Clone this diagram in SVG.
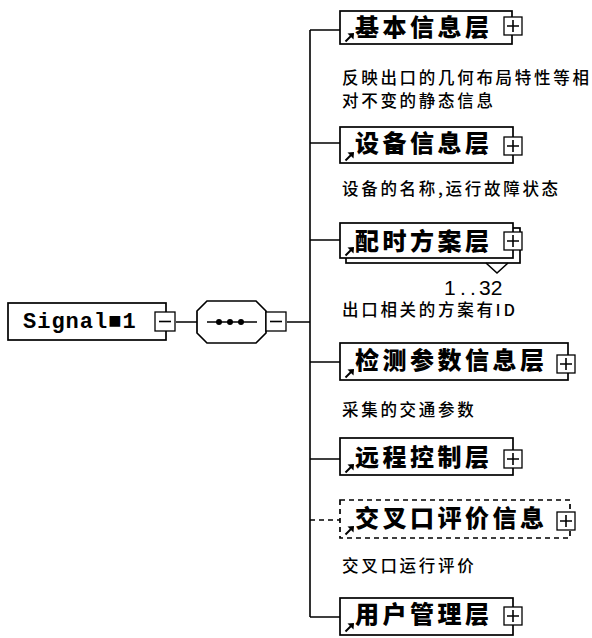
<svg xmlns="http://www.w3.org/2000/svg" width="592" height="638" viewBox="0 0 592 638">
<defs>
<style>
.box{fill:#fff;stroke:#000;stroke-width:1.7}
.pb{fill:#fff;stroke:#000;stroke-width:1.3}
.ln{fill:none;stroke:#000;stroke-width:1.6}
.title{font-family:"Noto Sans CJK SC","Noto Sans",sans-serif;font-weight:900;font-size:24px;letter-spacing:3.5px;fill:#000}
.desc{font-family:"Noto Sans CJK SC","Noto Sans",sans-serif;font-weight:500;font-size:16.5px;letter-spacing:2.7px;fill:#000}
.num{font-family:"Liberation Sans",Arial,sans-serif;font-size:21px;fill:#000}
.root{font-family:"Liberation Mono","Courier New",monospace;font-weight:700;font-size:22px;letter-spacing:1px;fill:#000}
</style>
<g id="plus"><rect class="pb" x="0" y="0" width="18" height="18"/><path class="ln" d="M3 9H15M9 3V15" stroke-width="1.4"/></g>
<g id="minus"><rect class="pb" x="0" y="0" width="20" height="19"/><path class="ln" d="M4 9.5H16" stroke-width="1.4"/></g>
<g id="arr"><path d="M0.5 8.5L6.5 2.5" stroke="#000" stroke-width="2"/><path d="M2.5 0.5L9 0L8.5 6.5Z" fill="#000"/></g>
</defs>
<rect width="592" height="638" fill="#fff"/>

<g id="connectors">
<path class="ln" d="M176 322H197M287 322H310M310 30V617"/>
<path class="ln" d="M310 30H340M310 143H340M310 240H340M310 362H340M310 459H340M310 617H340"/>
<path class="ln" d="M310 520H340" stroke-dasharray="5 4"/>
</g>

<g id="root">
<rect class="box" x="8" y="303" width="158" height="37"/>
<text class="root" x="23" y="328">Signal■1</text>
<use href="#minus" x="155" y="312"/>
</g>

<g id="sequence">
<polygon class="box" points="207,301 256,301 266,311 266,333 256,343 207,343 197,333 197,311"/>
<path class="ln" d="M207 322H257"/>
<circle cx="219" cy="322" r="3"/><circle cx="230" cy="322" r="3"/><circle cx="241" cy="322" r="3"/>
<use href="#minus" x="266" y="312"/>
</g>

<g id="n1">
<rect class="box" x="340" y="11" width="172" height="33"/>
<text class="title" x="355" y="36">基本信息层</text>
<use href="#plus" x="504" y="17"/>
<use href="#arr" x="345" y="33"/>
<text class="desc" x="342" y="84">反映出口的几何布局特性等相</text>
<text class="desc" x="342" y="107">对不变的静态信息</text>
</g>

<g id="n2">
<rect class="box" x="340" y="127" width="173" height="36"/>
<text class="title" x="355" y="152">设备信息层</text>
<use href="#plus" x="504" y="137"/>
<use href="#arr" x="345" y="152"/>
<text class="desc" x="342" y="195">设备的名称,运行故障状态</text>
</g>

<g id="n3">
<rect class="box" x="346" y="228" width="174" height="35"/>
<rect class="box" x="340" y="223" width="173" height="35"/>
<text class="title" x="355" y="250">配时方案层</text>
<use href="#plus" x="504" y="232"/>
<use href="#arr" x="345" y="247"/>
<polyline class="ln" points="486,263 497,273 508,263" stroke-width="1.2"/>
<text class="num" y="295"><tspan x="444">1</tspan><tspan x="460">.</tspan><tspan x="470">.</tspan><tspan x="479">32</tspan></text>
<text class="desc" x="342" y="316">出口相关的方案有ID</text>
</g>

<g id="n4">
<rect class="box" x="340" y="343" width="228" height="37" stroke-width="2.2"/>
<text class="title" x="355" y="369">检测参数信息层</text>
<use href="#plus" x="557" y="355"/>
<use href="#arr" x="345" y="369"/>
<text class="desc" x="342" y="416">采集的交通参数</text>
</g>

<g id="n5">
<rect class="box" x="340" y="438" width="173" height="37"/>
<text class="title" x="355" y="466">远程控制层</text>
<use href="#plus" x="504" y="450"/>
<use href="#arr" x="345" y="464"/>
</g>

<g id="n6">
<rect class="box" x="340" y="500" width="230" height="38" stroke-dasharray="5 4"/>
<text class="title" x="355" y="527">交叉口评价信息</text>
<use href="#plus" x="557" y="512"/>
<use href="#arr" x="345" y="526"/>
<text class="desc" x="342" y="572">交叉口运行评价</text>
</g>

<g id="n7">
<rect class="box" x="340" y="598" width="173" height="37"/>
<text class="title" x="355" y="623">用户管理层</text>
<use href="#plus" x="504" y="607"/>
<use href="#arr" x="345" y="623"/>
</g>
</svg>
